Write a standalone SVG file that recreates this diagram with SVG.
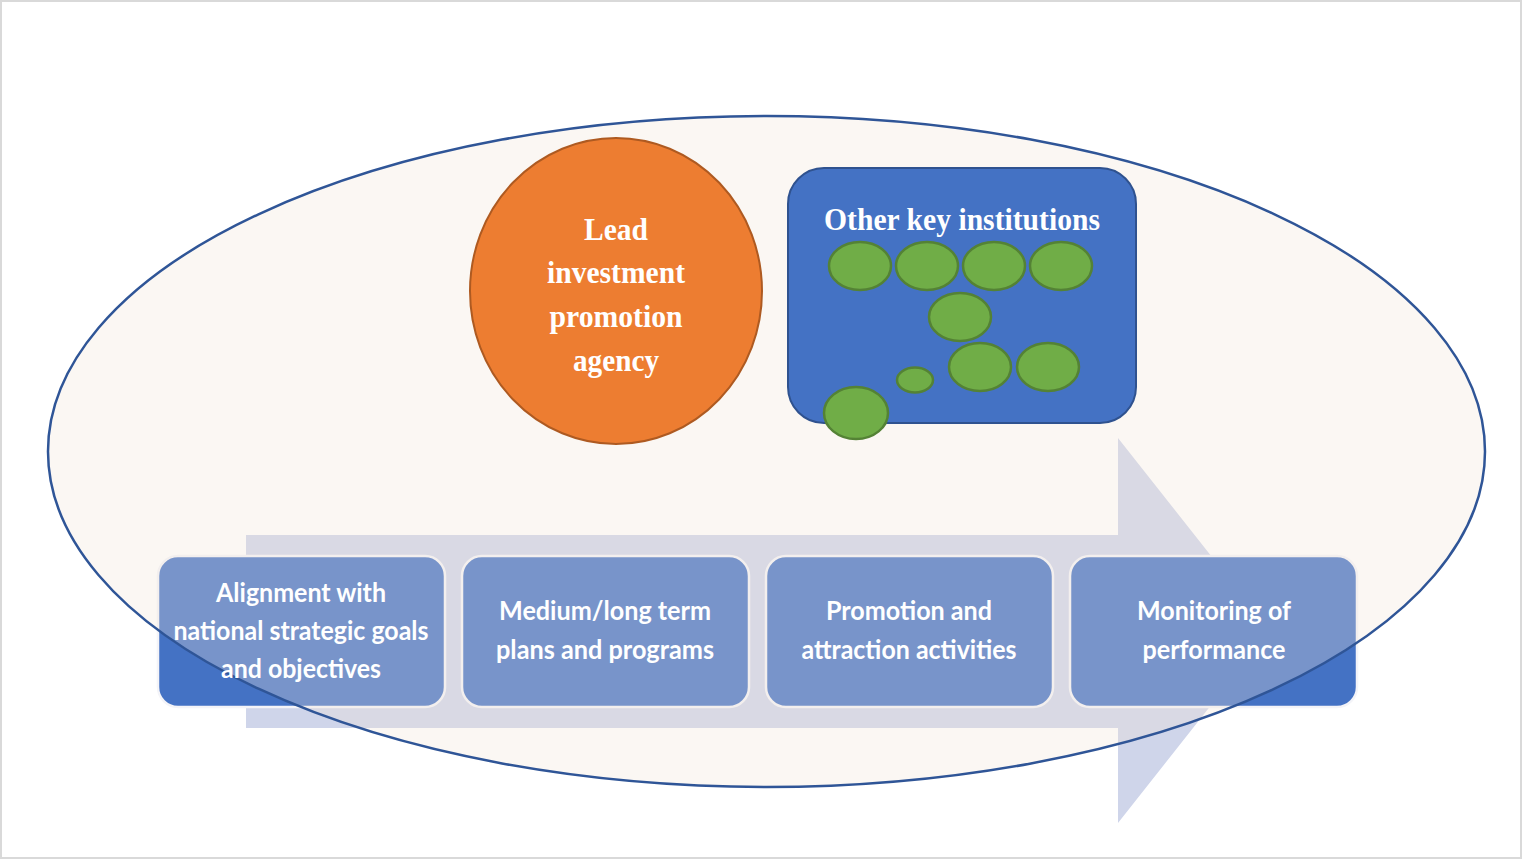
<svg xmlns="http://www.w3.org/2000/svg" width="1522" height="860" viewBox="0 0 1522 860">
<style>
.step{fill:#4472c4;stroke:#f4f4f8;stroke-width:2.5}
.stxt{font-family:"Lato","Liberation Sans",sans-serif;font-weight:bold;font-size:27px;fill:#ffffff;text-anchor:middle}
.serif{font-family:"Liberation Serif","DejaVu Serif",serif;font-weight:bold;fill:#ffffff;text-anchor:middle}
.dot{fill:#70ad47;stroke:#548235;stroke-width:2.5}
</style>
<rect x="1" y="1" width="1520" height="857" fill="#ffffff" stroke="#d9d9d9" stroke-width="2"/>
<g id="process-arrow">
<polygon points="246,535 1118,535 1118,438 1270,630.5 1118,823 1118,728 246,728" fill="#cfd5ea"/>
</g>
<g id="step1"><rect class="step" x="158" y="556" width="287" height="151" rx="20"/></g>
<g id="step2"><rect class="step" x="462" y="556" width="287" height="151" rx="20"/></g>
<g id="step3"><rect class="step" x="766" y="556" width="287" height="151" rx="20"/></g>
<g id="step4"><rect class="step" x="1070" y="556" width="287" height="151" rx="20"/></g>
<g id="ellipse">
<ellipse cx="766.5" cy="451.5" rx="718.5" ry="335.5" fill="#f2e3d6" fill-opacity="0.3" stroke="#2f5597" stroke-width="2.5"/>
</g>
<g id="step-labels">
<text class="stxt" x="301" y="602" textLength="170" lengthAdjust="spacingAndGlyphs">Alignment with</text>
<text class="stxt" x="301" y="640" textLength="255" lengthAdjust="spacingAndGlyphs">national strategic goals</text>
<text class="stxt" x="301" y="678" textLength="160" lengthAdjust="spacingAndGlyphs">and objectives</text>
<text class="stxt" x="605" y="620" textLength="212" lengthAdjust="spacingAndGlyphs">Medium/long term</text>
<text class="stxt" x="605" y="659" textLength="218" lengthAdjust="spacingAndGlyphs">plans and programs</text>
<text class="stxt" x="909" y="620" textLength="166" lengthAdjust="spacingAndGlyphs">Promotion and</text>
<text class="stxt" x="909" y="659" textLength="215" lengthAdjust="spacingAndGlyphs">attraction activities</text>
<text class="stxt" x="1214" y="620" textLength="154" lengthAdjust="spacingAndGlyphs">Monitoring of</text>
<text class="stxt" x="1214" y="659" textLength="143" lengthAdjust="spacingAndGlyphs">performance</text>
</g>
<g id="lead-agency">
<ellipse cx="616" cy="291" rx="146" ry="153" fill="#ed7d31" stroke="#ae5a21" stroke-width="2"/>
<text class="serif" font-size="32" x="616" y="240" textLength="64" lengthAdjust="spacingAndGlyphs">Lead</text>
<text class="serif" font-size="32" x="616" y="283" textLength="138" lengthAdjust="spacingAndGlyphs">investment</text>
<text class="serif" font-size="32" x="616" y="327" textLength="133" lengthAdjust="spacingAndGlyphs">promotion</text>
<text class="serif" font-size="32" x="616" y="371" textLength="86" lengthAdjust="spacingAndGlyphs">agency</text>
</g>
<g id="other-institutions">
<rect x="788" y="168" width="348" height="255" rx="36" fill="#4472c4" stroke="#2f528f" stroke-width="2"/>
<text class="serif" font-size="32" x="962" y="230" textLength="276" lengthAdjust="spacingAndGlyphs">Other key institutions</text>
<ellipse class="dot" cx="860" cy="266" rx="31" ry="24"/>
<ellipse class="dot" cx="927" cy="266" rx="31" ry="24"/>
<ellipse class="dot" cx="994" cy="266" rx="31" ry="24"/>
<ellipse class="dot" cx="1061" cy="266" rx="31" ry="24"/>
<ellipse class="dot" cx="960" cy="317" rx="31" ry="24"/>
<ellipse class="dot" cx="980" cy="367" rx="31" ry="24"/>
<ellipse class="dot" cx="1048" cy="367" rx="31" ry="24"/>
<ellipse class="dot" cx="915" cy="380" rx="18" ry="12.5"/>
<ellipse class="dot" cx="856" cy="413" rx="32" ry="26"/>
</g>
</svg>
